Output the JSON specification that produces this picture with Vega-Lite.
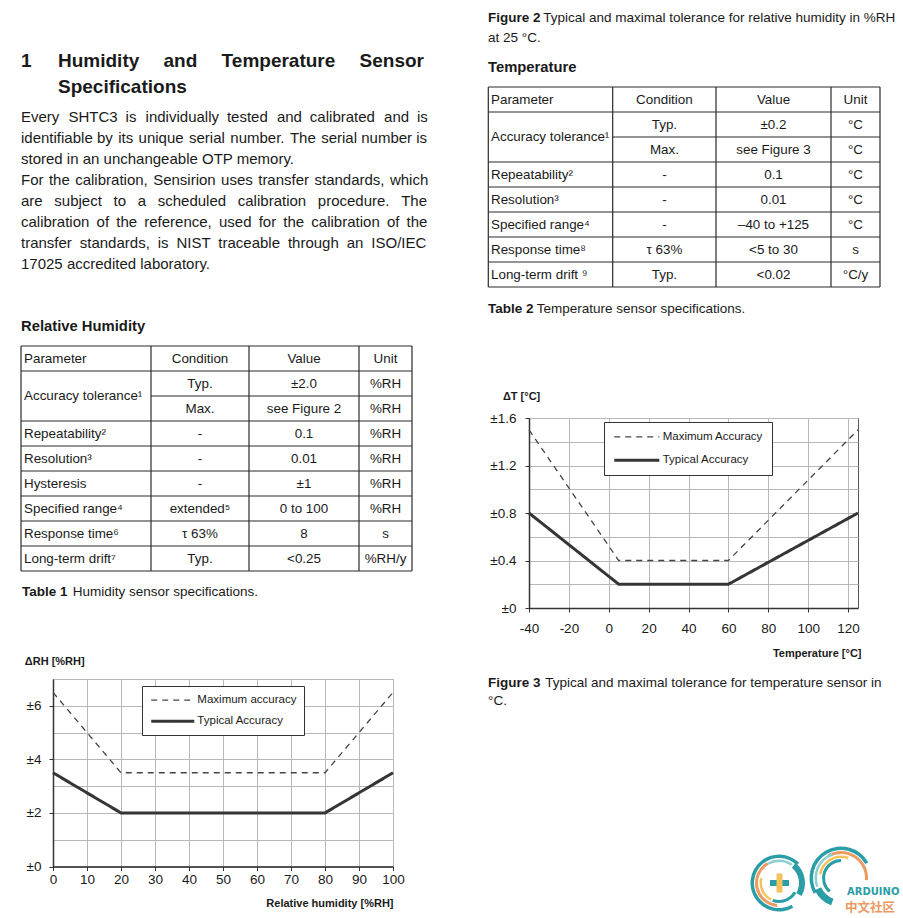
{
"$schema":"https://vega.github.io/schema/vega-lite/v6.json",
"background":"white",
"padding":{"left":20,"top":0,"right":0,"bottom":0},
"config":{
 "font":"Liberation Sans",
 "view":{"stroke":null},
 "axis":{"gridColor":"#b8b8b8","gridWidth":1,"domainColor":"#333333","domainWidth":1.5,"tickColor":"#333333","tickSize":4,"labelColor":"#1a1a1a","labelFont":"Liberation Sans","labelFontSize":13.5,"labelFlush":false,"labelOverlap":false,"labelBound":false,"titleColor":"#1a1a1a","titleFont":"Liberation Sans","titleFontSize":11,"titleFontWeight":"bold"},
 "legend":{"labelFont":"Liberation Sans","labelFontSize":11.5,"labelColor":"#1a1a1a","strokeColor":"#333333","fillColor":"#ffffff","symbolType":"M-1,0H7"}
},
"datasets":{
 "t1cells":[
  {"r":0,"c":0,"t":"Parameter"},{"r":0,"c":1,"t":"Condition"},{"r":0,"c":2,"t":"Value"},{"r":0,"c":3,"t":"Unit"},
  {"r":1.5,"c":0,"t":"Accuracy tolerance¹"},
  {"r":1,"c":1,"t":"Typ."},{"r":1,"c":2,"t":"±2.0"},{"r":1,"c":3,"t":"%RH"},
  {"r":2,"c":1,"t":"Max."},{"r":2,"c":2,"t":"see Figure 2"},{"r":2,"c":3,"t":"%RH"},
  {"r":3,"c":0,"t":"Repeatability²"},{"r":3,"c":1,"t":"-"},{"r":3,"c":2,"t":"0.1"},{"r":3,"c":3,"t":"%RH"},
  {"r":4,"c":0,"t":"Resolution³"},{"r":4,"c":1,"t":"-"},{"r":4,"c":2,"t":"0.01"},{"r":4,"c":3,"t":"%RH"},
  {"r":5,"c":0,"t":"Hysteresis"},{"r":5,"c":1,"t":"-"},{"r":5,"c":2,"t":"±1"},{"r":5,"c":3,"t":"%RH"},
  {"r":6,"c":0,"t":"Specified range⁴"},{"r":6,"c":1,"t":"extended⁵"},{"r":6,"c":2,"t":"0 to 100"},{"r":6,"c":3,"t":"%RH"},
  {"r":7,"c":0,"t":"Response time⁶"},{"r":7,"c":1,"t":"τ 63%"},{"r":7,"c":2,"t":"8"},{"r":7,"c":3,"t":"s"},
  {"r":8,"c":0,"t":"Long-term drift⁷"},{"r":8,"c":1,"t":"Typ."},{"r":8,"c":2,"t":"<0.25"},{"r":8,"c":3,"t":"%RH/y"}
 ],
 "t2cells":[
  {"r":0,"c":0,"t":"Parameter"},{"r":0,"c":1,"t":"Condition"},{"r":0,"c":2,"t":"Value"},{"r":0,"c":3,"t":"Unit"},
  {"r":1.5,"c":0,"t":"Accuracy tolerance¹"},
  {"r":1,"c":1,"t":"Typ."},{"r":1,"c":2,"t":"±0.2"},{"r":1,"c":3,"t":"°C"},
  {"r":2,"c":1,"t":"Max."},{"r":2,"c":2,"t":"see Figure 3"},{"r":2,"c":3,"t":"°C"},
  {"r":3,"c":0,"t":"Repeatability²"},{"r":3,"c":1,"t":"-"},{"r":3,"c":2,"t":"0.1"},{"r":3,"c":3,"t":"°C"},
  {"r":4,"c":0,"t":"Resolution³"},{"r":4,"c":1,"t":"-"},{"r":4,"c":2,"t":"0.01"},{"r":4,"c":3,"t":"°C"},
  {"r":5,"c":0,"t":"Specified range⁴"},{"r":5,"c":1,"t":"-"},{"r":5,"c":2,"t":"–40 to +125"},{"r":5,"c":3,"t":"°C"},
  {"r":6,"c":0,"t":"Response time⁸"},{"r":6,"c":1,"t":"τ 63%"},{"r":6,"c":2,"t":"<5 to 30"},{"r":6,"c":3,"t":"s"},
  {"r":7,"c":0,"t":"Long-term drift ⁹"},{"r":7,"c":1,"t":"Typ."},{"r":7,"c":2,"t":"<0.02"},{"r":7,"c":3,"t":"°C/y"}
 ],
 "t1lines":[
  {"c0":0,"c1":4,"r0":0,"r1":0},{"c0":0,"c1":4,"r0":1,"r1":1},{"c0":1,"c1":4,"r0":2,"r1":2},{"c0":0,"c1":4,"r0":3,"r1":3},{"c0":0,"c1":4,"r0":4,"r1":4},{"c0":0,"c1":4,"r0":5,"r1":5},{"c0":0,"c1":4,"r0":6,"r1":6},{"c0":0,"c1":4,"r0":7,"r1":7},{"c0":0,"c1":4,"r0":8,"r1":8},{"c0":0,"c1":4,"r0":9,"r1":9},
  {"c0":0,"c1":0,"r0":0,"r1":9},{"c0":1,"c1":1,"r0":0,"r1":9},{"c0":2,"c1":2,"r0":0,"r1":9},{"c0":3,"c1":3,"r0":0,"r1":9},{"c0":4,"c1":4,"r0":0,"r1":9}
 ],
 "t2lines":[
  {"c0":0,"c1":4,"r0":0,"r1":0},{"c0":0,"c1":4,"r0":1,"r1":1},{"c0":1,"c1":4,"r0":2,"r1":2},{"c0":0,"c1":4,"r0":3,"r1":3},{"c0":0,"c1":4,"r0":4,"r1":4},{"c0":0,"c1":4,"r0":5,"r1":5},{"c0":0,"c1":4,"r0":6,"r1":6},{"c0":0,"c1":4,"r0":7,"r1":7},{"c0":0,"c1":4,"r0":8,"r1":8},
  {"c0":0,"c1":0,"r0":0,"r1":8},{"c0":1,"c1":1,"r0":0,"r1":8},{"c0":2,"c1":2,"r0":0,"r1":8},{"c0":3,"c1":3,"r0":0,"r1":8},{"c0":4,"c1":4,"r0":0,"r1":8}
 ]
},
"bounds":"flush",
"spacing":476,
"resolve":{"scale":{"color":"independent","strokeDash":"independent","strokeWidth":"independent"}},
"hconcat":[
 {"bounds":"flush","spacing":0,
  "resolve":{"scale":{"color":"independent","strokeDash":"independent","strokeWidth":"independent"}},
  "vconcat":[
  {"width":376,"height":345.5,"view":{"fill":"#ffffff","stroke":null},
   "data":{"values":[
    {"kind":"heading","line":0,"indent":0,"t":"1"},
    {"kind":"heading","line":0,"indent":1,"t":"Humidity\u2003 and\u2003 Temperature\u2003 Sensor"},
    {"kind":"heading","line":1,"indent":1,"t":"Specifications"},
    {"kind":"para","line":2,"indent":0,"t":"Every \u2004SHTC3 \u2005is \u2004individually \u2005tested \u2004and \u2005calibrated \u2004and \u2005is"},
    {"kind":"para","line":3,"indent":0,"t":"identifiable by \u200aits \u200aunique \u200aserial \u200anumber. \u200aThe \u200aserial number is"},
    {"kind":"para","line":4,"indent":0,"t":"stored in an unchangeable OTP memory."},
    {"kind":"para","line":5,"indent":0,"t":"For \u200athe \u200acalibration, \u200aSensirion \u200auses \u200atransfer \u200astandards, \u200awhich"},
    {"kind":"para","line":6,"indent":0,"t":"are \u2002subject \u2002to \u2002a \u2002scheduled \u2002calibration \u2002procedure. \u2002The"},
    {"kind":"para","line":7,"indent":0,"t":"calibration \u2009of \u2009the \u2009reference, \u2009used \u2009for \u2009the \u2009calibration \u2009of \u2009the"},
    {"kind":"para","line":8,"indent":0,"t":"transfer \u2005standards, \u2005is \u2005NIST \u2005traceable \u2005through \u2005an \u2005ISO/IEC"},
    {"kind":"para","line":9,"indent":0,"t":"17025 accredited laboratory."},
    {"kind":"subhead","line":10,"indent":0,"t":"Relative Humidity"}
   ]},
   "encoding":{
    "x":{"field":"indent","type":"quantitative","scale":{"domain":[0,1],"range":[-32,5],"nice":false,"zero":false},"axis":null},
    "y":{"field":"line","type":"quantitative","scale":{"domain":[0,1,2,9,10],"range":[67.3,92.8,121.7,269.3,330.5],"nice":false,"zero":false},"axis":null},
    "text":{"field":"t"}
   },
   "layer":[
    {"transform":[{"filter":"datum.kind == 'heading'"}],"mark":{"type":"text","align":"left","baseline":"alphabetic","fontSize":19,"fontWeight":"bold","color":"#1a1a1a"}},
    {"transform":[{"filter":"datum.kind == 'para'"}],"mark":{"type":"text","align":"left","baseline":"alphabetic","fontSize":15,"color":"#1a1a1a"}},
    {"transform":[{"filter":"datum.kind == 'subhead'"}],"mark":{"type":"text","align":"left","baseline":"alphabetic","fontSize":14.8,"fontWeight":"bold","color":"#1a1a1a"}}
   ]
  },
  {"width":359,"height":225,
   "layer":[
    {"data":{"name":"t1lines"},"mark":{"type":"rule","color":"#2a2a2a","strokeWidth":1.2},
     "encoding":{"x":{"field":"c0","type":"quantitative","scale":{"domain":[0,1,2,3,4],"range":[-32,98,196,306,359],"nice":false,"zero":false},"axis":null},"x2":{"field":"c1"},"y":{"field":"r0","type":"quantitative","scale":{"domain":[0,9],"range":[0,225],"nice":false,"zero":false},"axis":null},"y2":{"field":"r1"}}},
    {"data":{"name":"t1cells"},"transform":[{"filter":"datum.c == 0"}],"mark":{"type":"text","align":"left","baseline":"middle","fontSize":13.4,"color":"#1a1a1a"},
     "encoding":{"x":{"field":"c","type":"quantitative","scale":{"domain":[0,1,2,3],"range":[-29,147,251,332.5],"nice":false,"zero":false},"axis":null},"y":{"field":"r","type":"quantitative","scale":{"domain":[0,8],"range":[12.5,212.5],"nice":false,"zero":false},"axis":null},"text":{"field":"t"}}},
    {"data":{"name":"t1cells"},"transform":[{"filter":"datum.c > 0"}],"mark":{"type":"text","align":"center","baseline":"middle","fontSize":13.4,"color":"#1a1a1a"},
     "encoding":{"x":{"field":"c","type":"quantitative","scale":{"domain":[0,1,2,3],"range":[-29,147,251,332.5],"nice":false,"zero":false},"axis":null},"y":{"field":"r","type":"quantitative","scale":{"domain":[0,8],"range":[12.5,212.5],"nice":false,"zero":false},"axis":null},"text":{"field":"t"}}}
   ],
   "resolve":{"scale":{"x":"independent","y":"independent"}}
  },
  {"width":359,"height":108,
   "data":{"values":[{"part":0,"ln":0,"t":"Table 1"},{"part":1,"ln":0,"t":"Humidity sensor specifications."}]},
   "encoding":{
    "x":{"field":"part","type":"quantitative","scale":{"domain":[0,1],"range":[-31,19.7],"nice":false,"zero":false},"axis":null},
    "y":{"field":"ln","type":"quantitative","scale":{"domain":[0,1],"range":[24.5,44],"nice":false,"zero":false},"axis":null},
    "text":{"field":"t"}
   },
   "layer":[
    {"transform":[{"filter":"datum.part == 0"}],"mark":{"type":"text","align":"left","baseline":"alphabetic","fontSize":13.5,"fontWeight":"bold","color":"#1a1a1a"}},
    {"transform":[{"filter":"datum.part == 1"}],"mark":{"type":"text","align":"left","baseline":"alphabetic","fontSize":13.5,"color":"#1a1a1a"}}
   ]
  },
  {"width":340,"height":187.5,"view":{"stroke":"#555555"},
   "data":{"values":[
    {"rh":0,"d":6.5,"s":"Maximum accuracy"},{"rh":20,"d":3.5,"s":"Maximum accuracy"},{"rh":80,"d":3.5,"s":"Maximum accuracy"},{"rh":100,"d":6.5,"s":"Maximum accuracy"},
    {"rh":0,"d":3.5,"s":"Typical Accuracy"},{"rh":20,"d":2,"s":"Typical Accuracy"},{"rh":80,"d":2,"s":"Typical Accuracy"},{"rh":100,"d":3.5,"s":"Typical Accuracy"}
   ]},
   "mark":{"type":"line"},
   "encoding":{
    "x":{"field":"rh","type":"quantitative","scale":{"domain":[0,100],"nice":false,"zero":false},
     "axis":{"values":[0,10,20,30,40,50,60,70,80,90,100],"grid":true,"labelPadding":2,"labelExpr":"'' + datum.value","title":"Relative humidity [%RH]","titleAnchor":"end","titleAlign":"right","titleBaseline":"middle","titleX":340,"titleY":36.5}},
    "y":{"field":"d","type":"quantitative","scale":{"domain":[0,7],"nice":false,"zero":false},
     "axis":{"values":[0,1,2,3,4,5,6,7],"grid":true,"labelPadding":8,"labelExpr":"datum.value % 2 == 0 ? '±' + datum.value : ''","tickOpacity":{"condition":{"test":"datum.value % 2 == 0","value":1},"value":0},"title":"ΔRH [%RH]","titleAngle":0,"titleAlign":"left","titleBaseline":"middle","titleX":-28.7,"titleY":-17.7}},
    "color":{"field":"s","type":"nominal","scale":{"domain":["Maximum accuracy","Typical Accuracy"],"range":["#444444","#353535"]},
     "legend":{"title":null,"orient":"none","legendX":89,"legendY":7,"padding":7.6,"rowPadding":8.6,"symbolSize":116,"labelOffset":33.75}},
    "strokeDash":{"field":"s","type":"nominal","scale":{"domain":["Maximum accuracy","Typical Accuracy"],"range":[[6,5],[1,0]]},
     "legend":{"title":null,"orient":"none","legendX":89,"legendY":7,"padding":7.6,"rowPadding":8.6,"symbolSize":116,"labelOffset":33.75}},
    "strokeWidth":{"field":"s","type":"ordinal","scale":{"domain":["Maximum accuracy","Typical Accuracy"],"range":[1.3,3]},
     "legend":{"title":null,"orient":"none","legendX":89,"legendY":7,"padding":7.6,"rowPadding":8.6,"symbolSize":116,"labelOffset":33.75}}
   }
  }
 ]},
 {"bounds":"flush","spacing":0,
  "resolve":{"scale":{"color":"independent","strokeDash":"independent","strokeWidth":"independent"}},
  "vconcat":[
  {"width":352,"height":87,
   "data":{"values":[
    {"kind":"bold","line":0,"part":0,"t":"Figure 2"},
    {"kind":"norm","line":0,"part":1,"t":"Typical and maximal tolerance for relative humidity in %RH"},
    {"kind":"norm","line":1,"part":0,"t":"at 25 °C."},
    {"kind":"sub","line":2,"part":0,"t":"Temperature"}
   ]},
   "encoding":{
    "x":{"field":"part","type":"quantitative","scale":{"domain":[0,1],"range":[-41,14.3],"nice":false,"zero":false},"axis":null},
    "y":{"field":"line","type":"quantitative","scale":{"domain":[0,1,2],"range":[22.3,41.7,71.7],"nice":false,"zero":false},"axis":null},
    "text":{"field":"t"}
   },
   "layer":[
    {"transform":[{"filter":"datum.kind == 'bold'"}],"mark":{"type":"text","align":"left","baseline":"alphabetic","fontSize":13.5,"fontWeight":"bold","color":"#1a1a1a"}},
    {"transform":[{"filter":"datum.kind == 'norm'"}],"mark":{"type":"text","align":"left","baseline":"alphabetic","fontSize":13.5,"color":"#1a1a1a"}},
    {"transform":[{"filter":"datum.kind == 'sub'"}],"mark":{"type":"text","align":"left","baseline":"alphabetic","fontSize":14.8,"fontWeight":"bold","color":"#1a1a1a"}}
   ]
  },
  {"width":351,"height":200,
   "layer":[
    {"data":{"name":"t2lines"},"mark":{"type":"rule","color":"#2a2a2a","strokeWidth":1.2},
     "encoding":{"x":{"field":"c0","type":"quantitative","scale":{"domain":[0,1,2,3,4],"range":[-40.7,83.7,187,302,351],"nice":false,"zero":false},"axis":null},"x2":{"field":"c1"},"y":{"field":"r0","type":"quantitative","scale":{"domain":[0,8],"range":[0,200],"nice":false,"zero":false},"axis":null},"y2":{"field":"r1"}}},
    {"data":{"name":"t2cells"},"transform":[{"filter":"datum.c == 0"}],"mark":{"type":"text","align":"left","baseline":"middle","fontSize":13.4,"color":"#1a1a1a"},
     "encoding":{"x":{"field":"c","type":"quantitative","scale":{"domain":[0,1,2,3],"range":[-38,135.4,244.5,326.5],"nice":false,"zero":false},"axis":null},"y":{"field":"r","type":"quantitative","scale":{"domain":[0,7],"range":[12.5,187.5],"nice":false,"zero":false},"axis":null},"text":{"field":"t"}}},
    {"data":{"name":"t2cells"},"transform":[{"filter":"datum.c > 0"}],"mark":{"type":"text","align":"center","baseline":"middle","fontSize":13.4,"color":"#1a1a1a"},
     "encoding":{"x":{"field":"c","type":"quantitative","scale":{"domain":[0,1,2,3],"range":[-38,135.4,244.5,326.5],"nice":false,"zero":false},"axis":null},"y":{"field":"r","type":"quantitative","scale":{"domain":[0,7],"range":[12.5,187.5],"nice":false,"zero":false},"axis":null},"text":{"field":"t"}}}
   ],
   "resolve":{"scale":{"x":"independent","y":"independent"}}
  },
  {"width":351,"height":131,
   "data":{"values":[{"part":0,"ln":0,"t":"Table 2"},{"part":1,"ln":0,"t":"Temperature sensor specifications."}]},
   "encoding":{
    "x":{"field":"part","type":"quantitative","scale":{"domain":[0,1],"range":[-41,7.7],"nice":false,"zero":false},"axis":null},
    "y":{"field":"ln","type":"quantitative","scale":{"domain":[0,1],"range":[26,45],"nice":false,"zero":false},"axis":null},
    "text":{"field":"t"}
   },
   "layer":[
    {"transform":[{"filter":"datum.part == 0"}],"mark":{"type":"text","align":"left","baseline":"alphabetic","fontSize":13.5,"fontWeight":"bold","color":"#1a1a1a"}},
    {"transform":[{"filter":"datum.part == 1"}],"mark":{"type":"text","align":"left","baseline":"alphabetic","fontSize":13.5,"color":"#1a1a1a"}}
   ]
  },
  {"width":329,"height":190,"view":{"stroke":"#555555"},
   "data":{"values":[
    {"tc":-40,"d":1.5,"s":"Maximum Accuracy"},{"tc":5,"d":0.4,"s":"Maximum Accuracy"},{"tc":60,"d":0.4,"s":"Maximum Accuracy"},{"tc":125,"d":1.5,"s":"Maximum Accuracy"},
    {"tc":-40,"d":0.8,"s":"Typical Accuracy"},{"tc":5,"d":0.2,"s":"Typical Accuracy"},{"tc":60,"d":0.2,"s":"Typical Accuracy"},{"tc":125,"d":0.8,"s":"Typical Accuracy"}
   ]},
   "mark":{"type":"line"},
   "encoding":{
    "x":{"field":"tc","type":"quantitative","scale":{"domain":[-40,125],"nice":false,"zero":false},
     "axis":{"values":[-40,-20,0,20,40,60,80,100,120],"grid":true,"labelPadding":9,"labelExpr":"'' + datum.value","title":"Temperature [°C]","titleAnchor":"end","titleAlign":"right","titleBaseline":"middle","titleX":332,"titleY":45}},
    "y":{"field":"d","type":"quantitative","scale":{"domain":[0,1.6],"nice":false,"zero":false},
     "axis":{"values":[0,0.2,0.4,0.6,0.8,1,1.2,1.4,1.6],"grid":true,"labelPadding":9,"labelExpr":"round(datum.value*10) % 4 == 0 ? (datum.value == 0 ? '±0' : '±' + format(datum.value, '.1f')) : ''","tickOpacity":{"condition":{"test":"round(datum.value*10) % 4 == 0","value":1},"value":0},"title":"ΔT [°C]","titleAngle":0,"titleAlign":"left","titleBaseline":"middle","titleX":-26.6,"titleY":-21.6}},
    "color":{"field":"s","type":"nominal","scale":{"domain":["Maximum Accuracy","Typical Accuracy"],"range":["#444444","#353535"]},
     "legend":{"title":null,"orient":"none","legendX":75,"legendY":4,"padding":8.4,"rowPadding":10.4,"symbolSize":127,"labelOffset":35.25}},
    "strokeDash":{"field":"s","type":"nominal","scale":{"domain":["Maximum Accuracy","Typical Accuracy"],"range":[[6,5],[1,0]]},
     "legend":{"title":null,"orient":"none","legendX":75,"legendY":4,"padding":8.4,"rowPadding":10.4,"symbolSize":127,"labelOffset":35.25}},
    "strokeWidth":{"field":"s","type":"ordinal","scale":{"domain":["Maximum Accuracy","Typical Accuracy"],"range":[1.3,3]},
     "legend":{"title":null,"orient":"none","legendX":75,"legendY":4,"padding":8.4,"rowPadding":10.4,"symbolSize":127,"labelOffset":35.25}}
   }
  },
  {"width":352,"height":242,
   "data":{"values":[{"part":0,"ln":0,"t":"Figure 3"},{"part":1,"ln":0,"t":"Typical and maximal tolerance for temperature sensor in"},{"part":0,"ln":1,"t":"°C."}]},
   "encoding":{
    "x":{"field":"part","type":"quantitative","scale":{"domain":[0,1],"range":[-41,16.3],"nice":false,"zero":false},"axis":null},
    "y":{"field":"ln","type":"quantitative","scale":{"domain":[0,1],"range":[78.7,97],"nice":false,"zero":false},"axis":null},
    "text":{"field":"t"}
   },
   "layer":[
    {"transform":[{"filter":"datum.part == 0 && datum.ln == 0"}],"mark":{"type":"text","align":"left","baseline":"alphabetic","fontSize":13.5,"fontWeight":"bold","color":"#1a1a1a"}},
    {"transform":[{"filter":"datum.part == 1 || datum.ln == 1"}],"mark":{"type":"text","align":"left","baseline":"alphabetic","fontSize":13.5,"color":"#1a1a1a"}}
   ]
  },
  {"width":352,"height":68,
   "layer":[
    {"data":{"values":[
      {"cx":30,"cy":33,"t0":150,"t1":405,"r0":25,"r1":28.5,"hue":"teal"},
      {"cx":30,"cy":33,"t0":185,"t1":330,"r0":21,"r1":24,"hue":"orange"},
      {"cx":30,"cy":33,"t0":330,"t1":395,"r0":21,"r1":23.5,"hue":"light"},
      {"cx":30,"cy":33,"t0":205,"t1":285,"r0":17,"r1":19.5,"hue":"yellow"},
      {"cx":30,"cy":33,"t0":120,"t1":200,"r0":17,"r1":20,"hue":"teal"},
      {"cx":30,"cy":33,"t0":40,"t1":120,"r0":20,"r1":26,"hue":"teal"},
      {"cx":92,"cy":28,"t0":-120,"t1":60,"r0":28,"r1":31.5,"hue":"teal"},
      {"cx":92,"cy":28,"t0":-30,"t1":95,"r0":24,"r1":27,"hue":"orange"},
      {"cx":92,"cy":28,"t0":-110,"t1":-20,"r0":24,"r1":26.5,"hue":"light"},
      {"cx":92,"cy":28,"t0":-80,"t1":20,"r0":20,"r1":22.5,"hue":"yellow"},
      {"cx":92,"cy":28,"t0":-140,"t1":0,"r0":16,"r1":19,"hue":"teal"},
      {"cx":92,"cy":28,"t0":200,"t1":245,"r0":22,"r1":29,"hue":"teal"}
     ]},
     "mark":{"type":"arc"},
     "encoding":{
      "x":{"field":"cx","type":"quantitative","scale":{"domain":[0,152],"range":[220,372],"nice":false,"zero":false},"axis":null},
      "y":{"field":"cy","type":"quantitative","scale":{"domain":[0,68],"range":[0,68],"nice":false,"zero":false},"axis":null},
      "theta":{"field":"t0","type":"quantitative","scale":{"type":"linear","domain":[0,360],"range":[0,6.2831853],"nice":false,"zero":false}},
      "theta2":{"field":"t1"},
      "radius":{"field":"r1","type":"quantitative","scale":{"type":"linear","domain":[0,40],"range":[0,40],"nice":false,"zero":true}},
      "radius2":{"field":"r0"},
      "color":{"field":"hue","type":"nominal","scale":{"domain":["teal","light","orange","yellow"],"range":["#2a9da6","#8ccfcf","#eb9a62","#f3c35a"]},"legend":null}
     }},
    {"data":{"values":[
      {"x0":21,"x1":40,"y0":30,"y1":36,"hue":"teal"},
      {"x0":27.5,"x1":33.5,"y0":23.5,"y1":42.5,"hue":"yellow"}
     ]},
     "mark":{"type":"rect"},
     "encoding":{
      "x":{"field":"x0","type":"quantitative","scale":{"domain":[0,152],"range":[220,372],"nice":false,"zero":false},"axis":null},
      "x2":{"field":"x1"},
      "y":{"field":"y0","type":"quantitative","scale":{"domain":[0,68],"range":[0,68],"nice":false,"zero":false},"axis":null},
      "y2":{"field":"y1"},
      "color":{"field":"hue","type":"nominal","scale":{"domain":["teal","light","orange","yellow"],"range":["#2a9da6","#8ccfcf","#eb9a62","#f3c35a"]},"legend":null}
     }},
    {"data":{"values":[{"k":"en","t":"ARDUINO","tx":98,"ty":41.5}]},
     "mark":{"type":"text","align":"left","baseline":"middle","fontSize":10,"fontWeight":"bold","color":"#2a9da6","font":"DejaVu Sans"},
     "encoding":{
      "x":{"field":"tx","type":"quantitative","scale":{"domain":[0,152],"range":[220,372],"nice":false,"zero":false},"axis":null},
      "y":{"field":"ty","type":"quantitative","scale":{"domain":[0,68],"range":[0,68],"nice":false,"zero":false},"axis":null},
      "text":{"field":"t"}
     }},
    {"data":{"values":[{"k":"zh","t":"中文社区","tx":96,"ty":58}]},
     "mark":{"type":"text","align":"left","baseline":"middle","fontSize":12.5,"fontWeight":"bold","color":"#eb9a62","font":"Noto Sans CJK SC"},
     "encoding":{
      "x":{"field":"tx","type":"quantitative","scale":{"domain":[0,152],"range":[220,372],"nice":false,"zero":false},"axis":null},
      "y":{"field":"ty","type":"quantitative","scale":{"domain":[0,68],"range":[0,68],"nice":false,"zero":false},"axis":null},
      "text":{"field":"t"}
     }}
   ]
  }
 ]}
]
}
